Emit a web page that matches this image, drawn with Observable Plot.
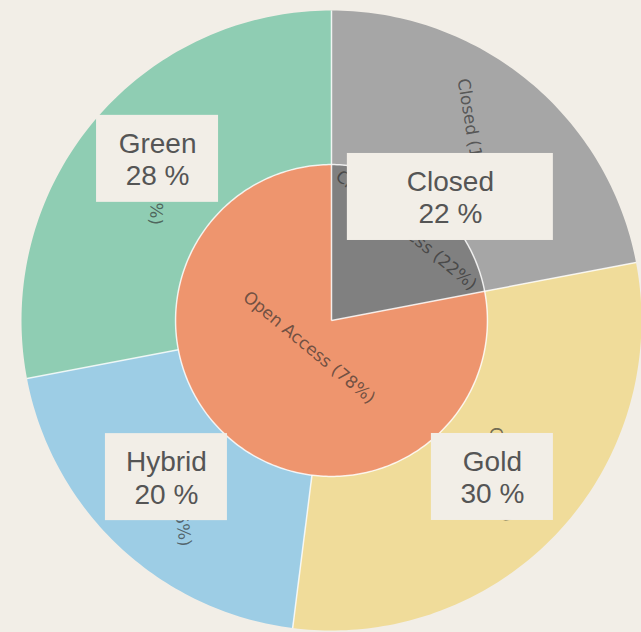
<!DOCTYPE html>
<html><head><meta charset="utf-8">
<script src="https://cdn.jsdelivr.net/npm/d3@7"></script>
<script src="https://cdn.jsdelivr.net/npm/@observablehq/plot@0.6"></script>
<style>html,body{margin:0;padding:0;background:#f2eee7;overflow:hidden}</style>
</head><body><div id="chart"></div>
<script>
// ---- data ----
const innerNames = ["Closed Access", "Open Access"];
const innerValues = [22, 78];
const outerNames = ["Closed", "Gold", "Hybrid", "Green"];
const outerParents = ["Closed Access", "Open Access", "Open Access", "Open Access"];
const outerValues = [22, 30, 20, 28];

// ---- layout / style ----
const W = 641, H = 632, CX = 331, CY = 320, R = 310;
const BG = "#f2eee7";
const R_IN = 0.503;
const innerColors = {"Closed Access": "#808080", "Open Access": "#ee956e"};
const outerColors = {"Closed": "#a6a6a6", "Gold": "#f0dc9a", "Hybrid": "#9dcde5", "Green": "#8fcdb3"};
const innerLabelRadius = {"Closed Access": 0.378, "Open Access": 0.113};
// label box nudges: [angle offset deg, radius, box width px]
const boxLayout = {"Closed": [4.3, 0.553, 206], "Gold": [1.0, 0.724, 122], "Hybrid": [3.3, 0.734, 122], "Green": [3.3, 0.766, 122]};
// outer slice text: [rotation deg, angle offset deg, radius]
const outerTextLayout = {"Closed": [80.7, -1.5, 0.74], "Gold": [82, -1, 0.74], "Hybrid": [82, -1, 0.74], "Green": [92, 1, 0.74]};
const BOX_H = 87;

function layoutRing(names, values, r0, r1, level, parents, colors) {
  const total = d3.sum(values);
  let acc = 0;
  return names.map((name, i) => {
    const a0 = acc / total * 360; acc += values[i]; const a1 = acc / total * 360;
    return {name, value: values[i], a0, a1, mid: (a0 + a1) / 2, r0, r1, level,
            parent: parents ? parents[i] : name, color: colors[name], total};
  });
}
const innerSlices = layoutRing(innerNames, innerValues, 0, R_IN, "inner", null, innerColors);
const outerSlices = layoutRing(outerNames, outerValues, R_IN, 1, "outer", outerParents, outerColors);
const rad = d => d * Math.PI / 180;
const px = (r, a) => r * Math.sin(rad(a));
const py = (r, a) => r * Math.cos(rad(a));

function polygon(s) {
  const pts = [];
  const n = Math.max(2, Math.ceil(s.a1 - s.a0));
  for (let k = 0; k <= n; k++) pts.push({a: s.a0 + (s.a1 - s.a0) * k / n, r: s.r1});
  if (s.r0 > 0) for (let k = n; k >= 0; k--) pts.push({a: s.a0 + (s.a1 - s.a0) * k / n, r: s.r0});
  else pts.push({a: s.a0, r: 0});
  pts.push(pts[0]);
  return pts.map(p => ({key: s.level + ":" + s.name, fill: s.color, x: px(p.r, p.a), y: py(p.r, p.a)}));
}
const slicePts = [...innerSlices, ...outerSlices].flatMap(polygon);

const dividers = [...innerSlices, ...outerSlices].map(s => ({
  x1: px(s.r0, s.a0), y1: py(s.r0, s.a0), x2: px(s.r1, s.a0), y2: py(s.r1, s.a0)}));
const circlePts = d3.range(0, 361, 1).map(a => ({x: px(R_IN, a), y: py(R_IN, a)}));

const norm = a => { let r = ((a % 360) + 360) % 360; if (r > 90 && r <= 270) r -= 180; if (r > 270) r -= 360; return r; };
const innerLabels = innerSlices.map(s => {
  const r = innerLabelRadius[s.name];
  return {text: `${s.name} (${Math.round(s.value / s.total * 100)}%)`, x: px(r, s.mid), y: py(r, s.mid), rotate: norm(s.mid)};
});
const outerLabels = outerSlices.map(s => {
  const parentTotal = d3.sum(outerSlices.filter(o => o.parent === s.parent), o => o.value);
  const [rot, da, r] = outerTextLayout[s.name];
  return {text: `${s.name} (${Math.round(s.value / parentTotal * 100)}%)`, x: px(r, s.mid + da), y: py(r, s.mid + da), rotate: rot};
});
const boxes = outerSlices.map(s => {
  const [da, r, w] = boxLayout[s.name];
  const x = px(r, s.mid + da), y = py(r, s.mid + da);
  return {text: `${s.name}\n${s.value} %`, x, y,
          x1: x - w / 2 / R, x2: x + w / 2 / R, y1: y - BOX_H / 2 / R, y2: y + BOX_H / 2 / R};
});

const chart = Plot.plot({
  width: W, height: H, margin: 0,
  x: {domain: [-CX / R, (W - CX) / R], axis: null},
  y: {domain: [-(H - CY) / R, CY / R], axis: null},
  color: {type: "identity"},
  style: {background: BG},
  marks: [
    Plot.line(slicePts, {x: "x", y: "y", z: "key", fill: "fill", stroke: null, curve: "linear"}),
    Plot.link(dividers, {x1: "x1", y1: "y1", x2: "x2", y2: "y2", stroke: "#ffffff", strokeWidth: 1.5, strokeOpacity: 0.8}),
    Plot.line(circlePts, {x: "x", y: "y", stroke: "#ffffff", strokeWidth: 1.5, strokeOpacity: 0.8}),
    Plot.text([...innerLabels, ...outerLabels], {x: "x", y: "y", text: "text", rotate: "rotate",
      fontSize: 17, fontFamily: "DejaVu Sans", fill: "#2a2a2a", fillOpacity: 0.65}),
    Plot.rect(boxes, {x1: "x1", x2: "x2", y1: "y1", y2: "y2", fill: BG}),
    Plot.text(boxes, {x: "x", y: "y", text: "text", fontSize: 28, lineHeight: 1.15,
      fontFamily: "Liberation Sans, Arial, sans-serif", fill: "#555555"})
  ]
});
document.getElementById("chart").appendChild(chart);
</script>
</body></html>
